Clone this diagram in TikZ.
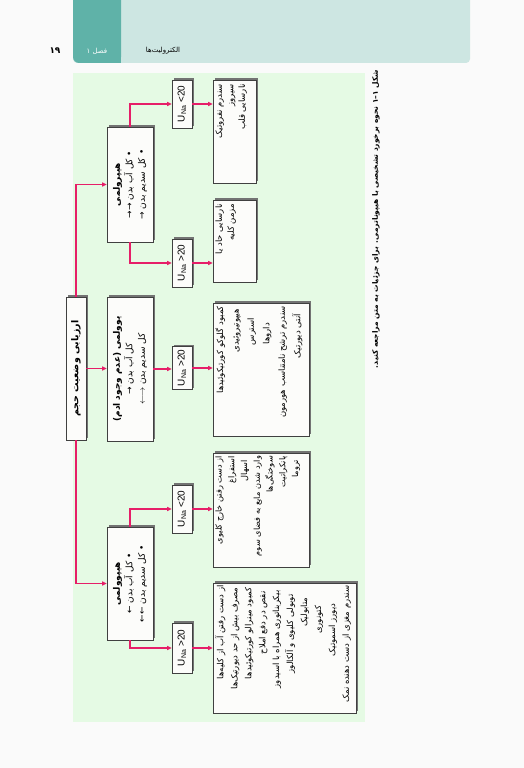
\documentclass[tikz,border=0pt]{standalone}
\usepackage{fontspec}
\usepackage{graphicx}
\usetikzlibrary{arrows.meta,shadows}
\TeXXeTstate=1
\newfontfamily\fa[Script=Arabic]{DejaVu Sans}
\newfontfamily\lat{Liberation Sans}
\newcommand\rl[1]{\mbox{\beginR#1\endR}}
\newcommand\rbox[4][t]{\rotatebox{90}{\parbox[c][#3][#1]{#2}{#4}}}
\definecolor{pagebg}{RGB}{250,250,250}
\definecolor{hdrlight}{RGB}{205,230,226}
\definecolor{hdrdark}{RGB}{95,178,168}
\definecolor{panel}{RGB}{229,250,228}
\definecolor{arrowc}{RGB}{230,30,104}
\definecolor{boxfill}{RGB}{252,252,250}
\begin{document}
\begin{tikzpicture}[x=1bp,y=-1bp,
  box/.style={draw=black!75,line width=0.7bp,fill=boxfill,inner sep=0pt,
    drop shadow={shadow xshift=1.6bp,shadow yshift=1.6bp,fill=black!55,opacity=1}},
  conn/.style={draw=arrowc,line width=1.5bp,-{Triangle[length=4.5bp,width=4bp]}},
  una/.style={box,minimum width=20bp},
]
\useasboundingbox (0,0) rectangle (524,768);
\fill[pagebg] (0,0) rectangle (524,768);
% header
\fill[hdrlight,rounded corners=4bp] (73,-10) rectangle (470,63);
\fill[hdrdark,rounded corners=6bp] (73,-10) rectangle (121,63);
\fill[hdrdark] (110,-10) rectangle (121,63);
\node[font=\fa\bfseries\fontsize{9}{10}\selectfont] (pg) at (55,51) {\rl{۱۹}};
\node[text=white,font=\fa\fontsize{7}{8}\selectfont] (ch) at (97,51) {\rl{فصل ۱}};
\node[font=\fa\fontsize{7}{8}\selectfont] (ti) at (163,51) {\rl{الکترولیت‌ها}};
% panel
\fill[panel] (73,73) rectangle (365,722);
% caption
\node[rotate=90,font=\fa\bfseries\fontsize{7.5}{9}\selectfont] (cap) at (376,219)
  {\rl{شکل ۱–۱ نحوه برخورد تشخیصی با هیپوناترمی. برای جزئیات به متن مراجعه کنید.}};
% root
\node[box,minimum width=20bp,minimum height=143bp] (root) at (76,368.5)
  {\rotatebox{90}{\fa\bfseries\fontsize{9.5}{10}\selectfont\rl{ارزیابی وضعیت حجم}}};
% middle level
\node[box,minimum width=46bp,minimum height=115bp] (hyper) at (130,184.5)
  {\rbox[c]{111bp}{42bp}{\fa\fontsize{9}{12.5}\selectfont\centering
   {\bfseries\rl{هیپرولمی}}\\\rl{• کل آب بدن →→}\\\rl{• کل سدیم بدن →}\par}};
\node[box,minimum width=46bp,minimum height=144bp] (eu) at (130,369)
  {\rbox[c]{140bp}{42bp}{\fa\fontsize{9}{12.5}\selectfont\centering
   {\bfseries\rl{یوولمی (عدم وجود ادم)}}\\\rl{کل آب بدن →}\\\rl{کل سدیم بدن $\longleftrightarrow$}\par}};
\node[box,minimum width=46bp,minimum height=113bp] (hypo) at (130,583.5)
  {\rbox[c]{109bp}{42bp}{\fa\fontsize{9}{12.5}\selectfont\centering
   {\bfseries\rl{هیپوولمی}}\\\rl{• کل آب بدن ←}\\\rl{• کل سدیم بدن ←←}\par}};
% UNa boxes
\node[una,minimum height=48bp] (hun1) at (182,104)
  {\rotatebox{90}{\lat\fontsize{10}{11}\selectfont U\textsubscript{Na} <20}};
\node[una,minimum height=48bp] (hun2) at (182,263)
  {\rotatebox{90}{\lat\fontsize{10}{11}\selectfont U\textsubscript{Na} >20}};
\node[una,minimum height=43bp] (eun) at (182,368)
  {\rotatebox{90}{\lat\fontsize{10}{11}\selectfont U\textsubscript{Na} >20}};
\node[una,minimum height=48bp] (pun1) at (182,509)
  {\rotatebox{90}{\lat\fontsize{10}{11}\selectfont U\textsubscript{Na} <20}};
\node[una,minimum height=50bp] (pun2) at (182,648)
  {\rotatebox{90}{\lat\fontsize{10}{11}\selectfont U\textsubscript{Na} >20}};
% result boxes
\node[box,minimum width=43bp,minimum height=103bp] (r1) at (234.5,131.5)
  {\rbox{95bp}{38bp}{\fa\fontsize{8.5}{11.5}\selectfont\raggedleft
   \rl{سندرم نفروتیک}\\\rl{سیروز}\\\rl{نارسایی قلب}\par}};
\node[box,minimum width=43bp,minimum height=82bp] (r2) at (234.5,241)
  {\rbox{74bp}{38bp}{\fa\fontsize{8.5}{12}\selectfont\raggedleft
   \rl{نارسایی حاد یا}\\\rl{مزمن کلیه}\par}};
\node[box,minimum width=96bp,minimum height=133bp] (r3) at (261,369.5)
  {\rbox{127bp}{91bp}{\fa\fontsize{8.5}{15.5}\selectfont\raggedleft
   \rl{کمبود گلوکو کورتیکوئیدها}\\\rl{\hspace{3bp}هیپوتیروئیدی}\\\rl{\hspace{12bp}استرس}\\
   \rl{\hspace{17bp}داروها}\\\rl{سندرم ترشح نامتناسب هورمون}\\\rl{\hspace{8bp}آنتی دیورتیک}\par}};
\node[box,minimum width=96bp,minimum height=114bp] (r4) at (261,510)
  {\rbox{108bp}{91bp}{\fa\fontsize{8.2}{12.8}\selectfont\raggedleft
   \rl{از دست رفتن خارج کلیوی}\\\rl{استفراغ}\\\rl{\hspace{4bp}اسهال}\\
   \rl{وارد شدن مایع به فضای سوم}\\\rl{سوختگی‌ها}\\\rl{پانکراتیت}\\\rl{\hspace{4bp}تروما}\par}};
\node[box,minimum width=143bp,minimum height=130bp] (r5) at (284.5,648)
  {\rbox{125bp}{138bp}{\fa\fontsize{8.5}{14}\selectfont\raggedleft
   \rl{از دست رفتن آب از کلیه‌ها}\\\rl{\hspace{2bp}مصرف بیش از حد دیورتیک‌ها}\\
   \rl{\hspace{2bp}کمبود مینرالو کورتیکوئیدها}\\\rl{\hspace{6bp}نقص در دفع املاح}\\
   \rl{\hspace{5bp}بیکربناتوری همراه با اسیدوز}\\\rl{\hspace{9bp}توبولی کلیوی و آلکالوز}\\
   \rl{\hspace{12bp}متابولیک}\\\rl{\hspace{20bp}کتونوری}\\\rl{\hspace{18bp}دیورز اسموتیک}\\
   \rl{سندرم مغزی از دست دهنده نمک}\par}};
% connectors
\draw[conn] (root.north) |- (hyper.west);
\draw[conn] (root.east) -- (root.east -| eu.west);
\draw[conn] (root.south) |- (hypo.west);
\draw[conn] (hyper.north) |- (hun1.west);
\draw[conn] (hyper.south) |- (hun2.west);
\draw[conn] (eu.east) -- (eu.east -| eun.west);
\draw[conn] (hypo.north) |- (pun1.west);
\draw[conn] (hypo.south) |- (pun2.west);
\draw[conn] (hun1.east) -- (hun1.east -| r1.west);
\draw[conn] (hun2.east) -- (hun2.east -| r2.west);
\draw[conn] (eun.east) -- (eun.east -| r3.west);
\draw[conn] (pun1.east) -- (pun1.east -| r4.west);
\draw[conn] (pun2.east) -- (pun2.east -| r5.west);
\end{tikzpicture}
\end{document}
